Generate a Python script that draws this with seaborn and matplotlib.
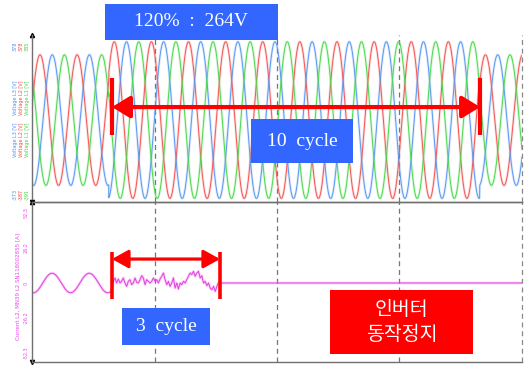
import numpy as np
import pandas as pd
import matplotlib
matplotlib.use('Agg')
import matplotlib.pyplot as plt
import seaborn as sns
from matplotlib.patches import Rectangle

# ---- values ----
freq_hz = 60
seg_edges_ms = [0, 34.5, 201.0, 220.0]      # normal / 120 % / normal
v_peak = [311, 373, 311]                      # peak volts per segment
phase_names = ['Voltage L2', 'Voltage L3', 'Voltage L1']
phase_peak_ms = [3.6, 9.1, 14.6]              # first positive peak of each phase
phase_colors = ['#f25656', '#5a98f2', '#4cd94c']

v_top_labels = ['378', '378', '385']          # L3, L2, L1
v_bot_labels = ['-373', '-387', '-391']
v_label_colors = ['#4b8ff2', '#f04a4a', '#3ed63e']

# current L2: small sine before the event, noisy during 3 cycles, then 0
i_pre_peak = 7.3
i_pre_peak_ms = 9.0
i_pre_end_ms = 35.5
i_noisy_start_ms = 36.5
i_noisy_step_ms = 0.75
i_noisy = [1.25, 3.75, 0, 3, 0, 1.25, 3.75, 0, -2.5, 1.25, 2.5, -1.25, 0, 3.75,
           0.5, 0, 2.5, 5.5, 3.75, -1.25, 2.5, 1.25, 0, 1.25, 3.75, 1.25, 2.5, 0,
           3, 5, 7.5, 2.5, -1.25, 1.25, -2.5, 0, 3.75, -3.75, 0, -4.5, 0, -1.25,
           1.25, 0, 2.5, 5, 7.5, 6.25, 8.75, 5, 7.5, 8.75, 3.75, 5.5, 0, 1.25,
           -2, 0, -3.75, -5, -2.5, -6.25]
i_off_ms = 83.6
i_ticks = [-52.3, -26.2, 0, 26.2, 52.3]
i_tick_labels = ['-52.3', '-26.2', '0', '26.2', '52.3']
grid_ms = [55, 110, 165]

# ---- build the traces ----
t = np.arange(0, seg_edges_ms[-1] + 0.01, 0.05)
amp = np.select([t < seg_edges_ms[1], t < seg_edges_ms[2]], [v_peak[0], v_peak[1]], v_peak[2])
rows = []
for name, pk in zip(phase_names, phase_peak_ms):
    v = amp * np.cos(2 * np.pi * freq_hz * (t - pk) / 1000)
    rows.append(pd.DataFrame({'t': t, 'v': v, 'phase': name}))
df_v = pd.concat(rows)

t_pre = np.arange(0, i_pre_end_ms, 0.05)
i_pre = i_pre_peak * np.cos(2 * np.pi * freq_hz * (t_pre - i_pre_peak_ms) / 1000)
t_noisy = i_noisy_start_ms + i_noisy_step_ms * np.arange(len(i_noisy))
df_i = pd.DataFrame({
    't': np.concatenate([t_pre, t_noisy, [i_off_ms, seg_edges_ms[-1]]]),
    'i': np.concatenate([i_pre, i_noisy, [0, 0]]),
})

# ---- figure ----
sns.set_style('white')
plt.rcParams['font.family'] = ['DejaVu Sans']
W, H = 524, 367
fig = plt.figure(figsize=(W / 100, H / 100), dpi=100)


def fx(px):
    return px / W


def fy(py):
    return 1 - py / H


ax1 = fig.add_axes([fx(32), fy(202), 490 / W, 167 / H])
ax2 = fig.add_axes([fx(32), fy(362), 490 / W, 160 / H])

palette = dict(zip(phase_names, phase_colors))
sns.lineplot(data=df_v, x='t', y='v', hue='phase', palette=palette, legend=False,
             estimator=None, sort=False, lw=1.9, alpha=0.2, ax=ax1)
sns.lineplot(data=df_v, x='t', y='v', hue='phase', palette=palette, legend=False,
             estimator=None, sort=False, lw=0.7, ax=ax1)

sns.lineplot(data=df_i, x='t', y='i', color='#f060f0', estimator=None, sort=False,
             lw=2.0, alpha=0.3, ax=ax2)
sns.lineplot(data=df_i, x='t', y='i', color='#e040e0', estimator=None, sort=False,
             lw=0.7, ax=ax2)

ax1.set_xlim(0, seg_edges_ms[-1])
ax2.set_xlim(0, seg_edges_ms[-1])
ax1.set_ylim(-390, 405)
ax2.set_ylim(-59, 60.5)

for ax in (ax1, ax2):
    ax.set_xlabel('')
    ax.set_ylabel('')
    ax.set_xticks([])
    ax.patch.set_alpha(0)
    for g in grid_ms:
        ax.axvline(g, color='#777777', lw=0.9, ls=(0, (4, 3)), zorder=0)
    ax.axvline(seg_edges_ms[-1], color='#888888', lw=0.9, ls=(0, (4, 3)), clip_on=False)
    for s in ('left', 'bottom', 'top', 'right'):
        ax.spines[s].set_color('#707070')
        ax.spines[s].set_linewidth(1.0)
    ax.spines['right'].set_visible(False)
    ax.plot(0, 1, marker='^', color='black', ms=3, transform=ax.transAxes, clip_on=False)
    ax.plot(0, 0, marker='v', color='black', ms=3, transform=ax.transAxes, clip_on=False)
ax1.spines['top'].set_visible(False)

ax1.set_yticks([])
ax2.set_yticks(i_ticks)
ax2.set_yticklabels(i_tick_labels, rotation=90, va='center', color='#ee44ee', fontsize=3.5)
ax2.tick_params(axis='y', length=2, pad=0.5, color='#707070')

# voltage axis texts (three coloured columns)
for k, (top, bot, c) in enumerate(zip(v_top_labels, v_bot_labels, v_label_colors)):
    x = fx(15 + 6 * k)
    fig.text(x, fy(46), top, rotation=90, ha='center', va='center', color=c, fontsize=3.5)
    fig.text(x, fy(194), bot, rotation=90, ha='center', va='center', color=c, fontsize=3.5)
    name = 'Voltage L%d [V]' % (3 - k)
    fig.text(x, fy(98), name, rotation=90, ha='center', va='center', color=c, fontsize=3.5)
    fig.text(x, fy(140), name, rotation=90, ha='center', va='center', color=c, fontsize=3.5)
fig.text(fx(18), fy(286), 'Current L2, MN39 L2 SN118002855 [A]', rotation=90,
         ha='center', va='center', color='#ee44ee', fontsize=4.0)

# red markers and arrows
red = '#ff0000'
t_on, t_off, t_i_off = 35.9, 201.2, 84.4
for tt in (t_on, t_off):
    ax1.plot([tt, tt], [200, -72], color=red, lw=3, solid_capstyle='butt', zorder=5)
ax1.annotate('', xy=(t_off, 62), xytext=(t_on, 62),
             arrowprops=dict(arrowstyle='<|-|>,head_length=0.9,head_width=0.55',
                             color=red, lw=3, mutation_scale=12, shrinkA=0, shrinkB=0),
             zorder=5)
for tt in (t_on, t_i_off):
    ax2.plot([tt, tt], [23, -12], color=red, lw=2.6, solid_capstyle='butt', zorder=5)
ax2.annotate('', xy=(t_i_off, 17.9), xytext=(t_on, 17.9),
             arrowprops=dict(arrowstyle='<|-|>,head_length=0.9,head_width=0.5',
                             color=red, lw=2.3, mutation_scale=11, shrinkA=0, shrinkB=0),
             zorder=5)


def label_box(x0, y0, x1, y1, color, text, **kw):
    fig.add_artist(Rectangle((fx(x0), fy(y1)), fx(x1) - fx(x0), fy(y0) - fy(y1),
                             transform=fig.transFigure, facecolor=color, edgecolor='none'))
    fig.text(fx((x0 + x1) / 2), fy((y0 + y1) / 2), text, color='white',
             ha='center', va='center', **kw)


blue = '#3366ff'
label_box(105, 4, 278, 40, blue, '120%  :  264V', family='Liberation Serif', fontsize=14)
label_box(251, 119, 353, 163, blue, '10  cycle', family='Liberation Serif', fontsize=14)
label_box(122, 308, 210, 345, blue, '3  cycle', family='Liberation Serif', fontsize=14)
label_box(330, 290, 473, 354, red, '인버터\n동작정지', family=['Noto Sans CJK KR'],
          fontsize=14, linespacing=1.25)

fig.savefig('out.png', dpi=100)
